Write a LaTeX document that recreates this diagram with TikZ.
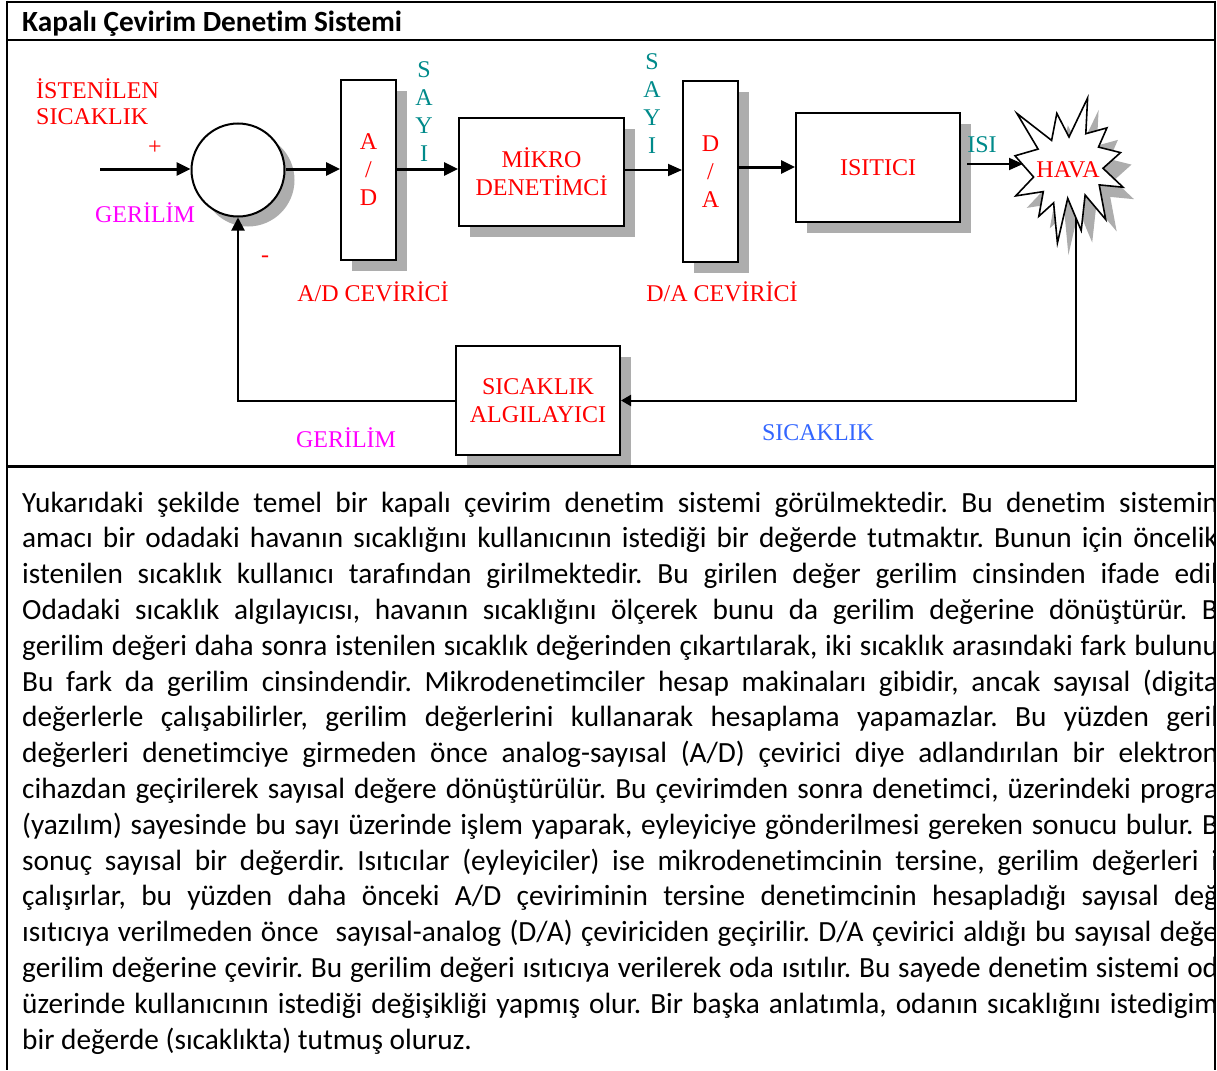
\documentclass[tikz,border=0pt]{standalone}
\usepackage{fontspec}
\setmainfont{Liberation Serif}
\newfontfamily\calibri[Ligatures=NoCommon]{Carlito}
\usetikzlibrary{arrows.meta,shadows}
\frenchspacing

\definecolor{redS}{RGB}{255,0,0}
\definecolor{magS}{RGB}{255,0,255}
\definecolor{tealS}{RGB}{0,138,138}
\definecolor{blueS}{RGB}{51,102,255}
\newcommand{\tnr}{\fontsize{24}{28}\selectfont}
\newcommand{\jline}[1]{\makebox[1196pt][s]{#1}}
\newcommand{\havaPath}{(1069,137) -- (1087.6,98) -- (1085.8,133.7) -- (1106.9,127.9) -- (1098.5,147.1) -- (1120.5,152.6) -- (1103,168.3) -- (1123,187.2) -- (1099.2,184.9) -- (1105.7,219.5) -- (1085.1,195) -- (1081.2,230.5) -- (1067.7,198.3) -- (1057.4,243) -- (1053.6,202.9) -- (1038.8,216.3) -- (1043.3,191.6) -- (1015.7,195.9) -- (1033.6,177) -- (1015,155.8) -- (1038.1,149.1) -- (1016.9,113.4) -- (1051.6,140.4) -- (1056.8,113.4) -- cycle}

\tikzstyle{bS}=[rectangle,draw,line width=2pt,fill=white,inner sep=0pt,align=center,text=redS,font=\tnr,general shadow={fill=black!32,shadow xshift=11pt,shadow yshift=-11pt}]
\tikzstyle{cS}=[circle,draw,line width=2pt,fill=white,inner sep=0pt,minimum size=93pt,general shadow={fill=black!32,shadow xshift=10pt,shadow yshift=-10pt}]
\tikzstyle{lS}=[inner sep=0pt,align=center,font=\tnr]
\tikzstyle{aK}=[line width=3pt,-{Triangle[length=14pt,width=13pt]}]
\tikzstyle{aN}=[line width=1.8pt,-{Triangle[length=14pt,width=12pt]}]
\tikzstyle{fS}=[line width=2pt]

\begin{document}
\begin{tikzpicture}[x=1pt,y=-1pt]
    \useasboundingbox (0,0) rectangle (1217,1070);
    % title
    \draw (22,31.5) node[anchor=base west,inner sep=0pt,font=\calibri\bfseries\fontsize{29.3}{35.8}\selectfont] (title) {Kapalı Çevirim Denetim Sistemi};
    % blocks
    \draw (238,170) node[cS] (sum) {};
    \draw (368.5,170) node[bS,minimum width=55pt,minimum height=180pt] (ad) {A\\/\\D};
    \draw (541.5,172) node[bS,minimum width=165pt,minimum height=108pt] (mikro) {MİKRO\\DENETİMCİ};
    \draw (710.5,171.5) node[bS,minimum width=55pt,minimum height=181pt] (da) {D\\/\\A};
    \draw (878,167.5) node[bS,minimum width=164pt,minimum height=109pt] (isitici) {ISITICI};
    \draw (538,400.5) node[bS,minimum width=164pt,minimum height=109pt] (algi) {SICAKLIK\\ALGILAYICI};
    % hava
    \fill[black!32,shift={(11,12)}] \havaPath;
    \draw[line width=1.6pt,fill=white] \havaPath;
    \draw (1068,170) node[lS,text=redS] (hava) {HAVA};
    \coordinate (girdi) at (100,169);
    \coordinate (havaIn) at (1023,164);
    \coordinate (havaOut) at (1075.5,218);
    % labels
    \draw (36,89) node[lS,anchor=west,text=redS] (istenilen) {İSTENİLEN};
    \draw (36,117) node[lS,anchor=west,text=redS] (sicaklik) {SICAKLIK};
    \draw (155,148) node[lS,text=redS] (arti) {+};
    \draw (265,259) node[lS,text=redS] (eksi) {-};
    \draw (145,213) node[lS,text=magS] (gerilim) {GERİLİM};
    \draw (424,112) node[lS,text=tealS] (sayiA) {S\\A\\Y\\I};
    \draw (652,103.5) node[lS,text=tealS] (sayiB) {S\\A\\Y\\I};
    \draw (982,145) node[lS,text=tealS] (isi) {ISI};
    \draw (373,292) node[lS,text=redS] (adLbl) {A/D CEVİRİCİ};
    \draw (722,292) node[lS,text=redS] (daLbl) {D/A CEVİRİCİ};
    \draw (346,438) node[lS,text=magS] (gerilimB) {GERİLİM};
    \draw (818,433) node[lS,text=blueS] (sicaklikB) {SICAKLIK};
    % connectors
    \draw[aK] (girdi) -- (sum.west |- girdi);
    \draw[aK] (sum.east |- girdi) -- (ad.west |- girdi);
    \draw[aK] (ad.east |- girdi) -- (mikro.west |- girdi);
    \draw[aN] (mikro.east |- 0,170) -- (da.west |- 0,170);
    \draw[aK] (da.east |- 0,167) -- (isitici.west |- 0,167);
    \draw[aN] ([xshift=6pt]isitici.east |- havaIn) -- (havaIn);
    \draw[fS,-{Triangle[length=10pt,width=11pt]}] (havaOut) |- (algi.east);
    \draw[fS,-{Triangle[length=13pt,width=13pt]}] (algi.west) -| (sum.south);
    % text
    \begin{scope}
        \clip (0,466) rectangle (1214,1070);
        \draw (22,1049) node[anchor=base west,inner sep=0pt,align=left,font=\calibri\fontsize{29.3}{35.8}\selectfont] (metin) {%
\jline{Yukarıdaki şekilde temel bir kapalı çevirim denetim sistemi görülmektedir. Bu denetim sistemin}\\
\jline{amacı bir odadaki havanın sıcaklığını kullanıcının istediği bir değerde tutmaktır. Bunun için öncelik}\\
\jline{istenilen sıcaklık kullanıcı tarafından girilmektedir. Bu girilen değer gerilim cinsinden ifade edil}\\
\jline{Odadaki sıcaklık algılayıcısı, havanın sıcaklığını ölçerek bunu da gerilim değerine dönüştürür. B}\\
\jline{gerilim değeri daha sonra istenilen sıcaklık değerinden çıkartılarak, iki sıcaklık arasındaki fark bulunu}\\
\jline{Bu fark da gerilim cinsindendir. Mikrodenetimciler hesap makinaları gibidir, ancak sayısal (digita}\\
\jline{değerlerle çalışabilirler, gerilim değerlerini kullanarak hesaplama yapamazlar. Bu yüzden geril}\\
\jline{değerleri denetimciye girmeden önce analog-sayısal (A/D) çevirici diye adlandırılan bir elektron}\\
\jline{cihazdan geçirilerek sayısal değere dönüştürülür. Bu çevirimden sonra denetimci, üzerindeki progra}\\
\jline{(yazılım) sayesinde bu sayı üzerinde işlem yaparak, eyleyiciye gönderilmesi gereken sonucu bulur. B}\\
\jline{sonuç sayısal bir değerdir. Isıtıcılar (eyleyiciler) ise mikrodenetimcinin tersine, gerilim değerleri i}\\
\jline{çalışırlar, bu yüzden daha önceki A/D çeviriminin tersine denetimcinin hesapladığı sayısal değ}\\
\jline{ısıtıcıya verilmeden önce \ sayısal-analog (D/A) çeviriciden geçirilir. D/A çevirici aldığı bu sayısal değe}\\
\jline{gerilim değerine çevirir. Bu gerilim değeri ısıtıcıya verilerek oda ısıtılır. Bu sayede denetim sistemi od}\\
\jline{üzerinde kullanıcının istediği değişikliği yapmış olur. Bir başka anlatımla, odanın sıcaklığını istedigim}\\
bir değerde (sıcaklıkta) tutmuş oluruz.};
    \end{scope}
    % frame
    \draw[line width=2.5pt] (7,2) -- (1215,2);
    \draw[line width=2.5pt] (7,40) -- (1215,40);
    \draw[line width=3pt] (7,466) -- (1215,466);
    \draw[line width=2.5pt] (7,0.75) -- (7,1070);
    \draw[line width=2.5pt] (1215,0.75) -- (1215,1070);
\end{tikzpicture}
\end{document}
